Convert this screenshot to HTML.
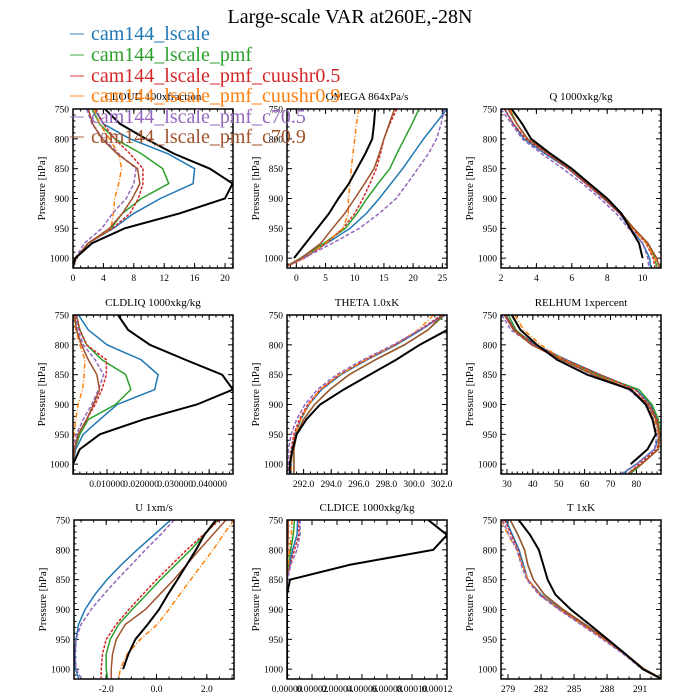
<!DOCTYPE html>
<html><head><meta charset="utf-8">
<style>
html,body{margin:0;padding:0;background:#fff;}
svg{display:block;font-family:"Liberation Serif",serif;}
</style></head>
<body>
<svg id="chart" width="700" height="700" viewBox="0 0 700 700">
<text x="350" y="23" text-anchor="middle" font-size="20">Large-scale VAR at260E,-28N</text>
<g id="panels"></g>
<g id="legend"></g>
</svg>
<script>
// pressure levels (hPa)
const levels = [750,775,800,825,850,875,900,925,950,975,1000,1015];
const seriesNames = ["cam144_lscale","cam144_lscale_pmf","cam144_lscale_pmf_cuushr0.5","cam144_lscale_pmf_cuushr0.9","cam144_lscale_pmf_c70.5","cam144_lscale_pmf_c70.9"];

// CLOUD
const cloudBlack = [4.2,6.2,9.6,13.3,18,21,20,14,6.8,2.5,0.3,0];
const cloudBlue = [2.8,4,7.5,12.5,16,15.8,11.5,8,5.3,2,0.4,0];
const cloudGreen = [2.5,3.5,5.5,9,11.8,12.6,9,6.5,5,2,0.4,0];
const cloudRed = [3,4,5.5,7.5,9.2,9.2,8.6,7.5,5.2,2,0.4,0];
const cloudOrange = [2.8,3.5,4.8,6,6.4,6,5.5,5.3,5,2,0.4,0];
const cloudPurple = [1.8,2.5,4,6,8.3,8,7,5.2,3.8,1.5,0.3,0];
const cloudBrown = [2,2.6,3.8,5.8,8.5,8.8,7.8,6.5,4.8,2,0.4,0];
// OMEGA
const omegaBlack = [13.5,13.3,13,11.8,10.4,9,7.2,5.6,3.6,1.6,-0.4];
const omegaBlue = [25.8,23.8,21.8,20,18.2,16.2,14.2,12,9.2,5.2,1.2,-1.9];
const omegaGreen = [21,19.8,18.5,17.2,16,14,12.1,10.4,8.4,4.7,0.7,-1.9];
const omegaRed = [17.2,16,15,14.4,13.7,12.6,11.4,10,8,5.1,1.4,-1.9];
const omegaOrange = [10.7,10.3,10,9.7,9.4,9.2,8.9,8.9,8,5,1.3,-1.9];
const omegaPurple = [25.3,24.8,24,22.6,20.8,19,17.1,14.2,10.8,6.2,1.2,-1.9];
const omegaBrown = [16.8,15.9,15,14.2,13.3,11.7,10,8.3,6.2,4.2,0.8,-1.9];
// Q
const qBlack = [2.6,3.2,3.7,4.8,6.0,7.0,8.0,8.8,9.3,9.8,10.0];
const qBlue = [2.2,2.7,3.3,4.5,5.8,6.8,7.8,8.7,9.3,10.0,10.4,10.45];
const qGreen = [2.5,2.9,3.5,4.7,5.9,6.9,7.9,8.8,9.5,10.3,10.7,10.8];
const qRed = [2.2,2.7,3.4,4.6,5.8,6.8,7.8,8.7,9.4,10.2,10.6,10.7];
const qOrange = [2.5,2.9,3.5,4.7,5.9,6.9,7.9,8.8,9.4,10.2,10.7,10.9];
const qPurple = [2.0,2.6,3.2,4.3,5.5,6.6,7.6,8.5,9.2,10.0,10.3,10.35];
const qBrown = [2.4,2.9,3.5,4.7,5.9,6.9,7.9,8.8,9.5,10.3,10.8,10.95];
// CLDLIQ
const liqBlack = [0.0132,0.0162,0.0226,0.033,0.0438,0.047,0.0364,0.0207,0.0079,0.002,0,0];
const liqBlue = [0.0016,0.0045,0.0100,0.0200,0.0250,0.0240,0.0130,0.0079,0.003,0.0008,0,0];
const liqGreen = [0.001,0.002,0.004,0.0085,0.0155,0.0170,0.0125,0.0045,0.002,0.0005,0,0];
const liqRed = [0.001,0.002,0.004,0.0098,0.0098,0.0085,0.0065,0.004,0.0015,0.0003,0,0];
const liqOrange = [0.0003,0.0008,0.002,0.0035,0.0033,0.0028,0.0015,0.0008,0.0003,0,0,0];
const liqPurple = [0.0008,0.0015,0.003,0.0065,0.009,0.0075,0.0055,0.003,0.001,0.0002,0,0];
const liqBrown = [0.0005,0.001,0.0025,0.0045,0.007,0.0078,0.006,0.004,0.0015,0.0005,0,0];
// THETA
const thBlack = [303.5,302.4,300.4,298.7,296.8,294.9,293.2,292.2,291.5,291.2,291.0,291.0];
const thBlue = [302.1,300.5,298.7,296.6,294.7,293.3,292.4,291.8,291.4,291.2,291.1,291.1];
const thGreen = [302.2,301,299.3,297.2,295.3,293.9,292.8,292,291.5,291.3,291.3,291.3];
const thRed = [302.0,300.4,298.6,296.5,294.6,293.2,292.3,291.7,291.3,291.1,291.0,291.0];
const thOrange = [301.4,300.3,298.6,296.5,294.6,293.2,292.4,291.8,291.4,291.2,291.1,291.1];
const thPurple = [302.3,300.4,298.5,296.3,294.4,293.0,292.1,291.5,291.1,290.9,290.9,290.9];
const thBrown = [302.1,301,299.3,297.2,295.3,293.9,292.8,292,291.5,291.3,291.3,291.3];
// RELHUM
const rhBlack = [31.9,35.2,41.6,49.4,61,77.8,83.6,86.2,87.5,84.3,77.8];
const rhBlue = [29.5,33,41,53,66,80,85.5,88,89,87,80,75];
const rhGreen = [30.5,33.5,40,52,65,81,86,88.5,89,88.5,82,78];
const rhRed = [29.5,33,40.5,52.5,66,79.5,85,88,89,88,81,77];
const rhOrange = [33,36.5,43,52,64,78,84,87,88.5,88.5,82,77];
const rhPurple = [28,31.5,40,51,63,77,84,86.5,88,87,80,74.5];
const rhBrown = [29,32.5,39.5,51,63.5,78,84.5,87.5,89,88.5,82,77];
// U
const uBlack = [2.36,1.9,1.57,1.2,0.83,0.45,0.1,-0.35,-0.84,-1.12,-1.33];
const uBlue = [0.56,-0.1,-0.77,-1.4,-1.97,-2.45,-2.84,-3.1,-3.2,-3.24,-3.22,-3.1];
const uGreen = [2.43,1.9,1.36,0.76,0.16,-0.4,-0.97,-1.5,-1.84,-2.0,-2.0,-1.95];
const uRed = [2.5,1.85,1.2,0.6,0.0,-0.55,-1.1,-1.6,-2.0,-2.15,-2.2,-2.2];
const uOrange = [3.08,2.65,2.25,1.8,1.36,0.92,0.49,0.03,-0.64,-1.17,-1.44,-1.5];
const uPurple = [0.7,0.15,-0.44,-1.0,-1.57,-2.1,-2.6,-3.0,-3.2,-3.24,-3.2,-3.0];
const uBrown = [2.76,2.23,1.7,1.2,0.69,0.12,-0.44,-1.24,-1.6,-1.75,-1.8,-1.8];
// CLDICE
const iceBlack = [0.000113,0.000128,0.000117,0.0000504,0.0000024,0,0,0,0,0,0,0];
const iceBlue = [0.0000085,0.000008,0.0000045,0.000002,0,0,0,0,0,0,0,0];
const iceGreen = [0.000006,0.000005,0.000003,0.000001,0,0,0,0,0,0,0,0];
const iceRed = [0.0000095,0.0000095,0.000006,0.0000025,0,0,0,0,0,0,0,0];
const iceOrange = [0.000004,0.0000035,0.000002,0.0000008,0,0,0,0,0,0,0,0];
const icePurple = [0.0000104,0.0000104,0.000008,0.000003,0.0000005,0,0,0,0,0,0,0];
const iceBrown = [0.000001,0.000001,0.0000005,0,0,0,0,0,0,0,0,0];
// T
const tBlack = [279.97,281.0,281.8,282.2,282.6,283.3,284.7,286.4,288.05,289.7,291.25,292.8];
const tBlue = [278.8,279.4,280.0,280.4,280.8,282.0,283.8,285.8,287.8,289.6,291.3,292.8];
const tGreen = [279.2,279.9,280.5,280.8,281.3,282.3,284.0,286.0,287.9,289.7,291.4,292.9];
const tRed = [278.7,279.3,279.9,280.3,280.8,281.9,283.7,285.8,287.8,289.6,291.3,292.8];
const tOrange = [278.4,279.0,279.8,280.3,280.8,281.9,283.7,285.7,287.7,289.6,291.3,292.9];
const tPurple = [278.5,279.1,279.8,280.2,280.7,281.8,283.6,285.6,287.6,289.5,291.2,292.8];
const tBrown = [279.2,279.9,280.5,280.8,281.3,282.3,284.0,286.0,287.9,289.7,291.4,292.9];

// tick labels
const cloudTicks = [0,4,8,12,16,20];
const omegaTicks = [0,5,10,15,20,25];
const qTicks = [2,4,6,8,10];
const liqTicks = [0.01,0.02,0.03,0.04];
const thTicks = [292,294,296,298,300,302];
const rhTicks = [30,40,50,60,70,80];
const uTicks = [-2,0,2];
const iceTicks = [0,0.00002,0.00004,0.00006,0.00008,0.0001,0.00012];
const tTicks = [279,282,285,288,291];
const pTicks = [750,800,850,900,950,1000];

const NS = "http://www.w3.org/2000/svg";
const colors = ["#1f77b4","#2ca02c","#d62728","#ff7f0e","#9467bd","#a0522d"];
const dashes = [null,null,"3,1.5","5,2,1,2","4,2",null];

const panels = [
 {name:"cloud",title:"CLOUD  100xfraction",x0:73,y0:109,xmin:0,xmax:21.05,ticks:cloudTicks,minor:1,fmt:v=>String(v),black:cloudBlack,s:[cloudBlue,cloudGreen,cloudRed,cloudOrange,cloudPurple,cloudBrown]},
 {name:"omega",title:"OMEGA  864xPa/s",x0:287,y0:109,xmin:-1.6,xmax:25.8,ticks:omegaTicks,minor:1,fmt:v=>String(v),black:omegaBlack,s:[omegaBlue,omegaGreen,omegaRed,omegaOrange,omegaPurple,omegaBrown]},
 {name:"q",title:"Q  1000xkg/kg",x0:501,y0:109,xmin:2,xmax:11.04,ticks:qTicks,minor:0.5,fmt:v=>String(v),black:qBlack,s:[qBlue,qGreen,qRed,qOrange,qPurple,qBrown]},
 {name:"cldliq",title:"CLDLIQ  1000xkg/kg",x0:73,y0:315,xmin:0,xmax:0.047,ticks:liqTicks,minor:0.002,fmt:v=>v.toFixed(6),black:liqBlack,s:[liqBlue,liqGreen,liqRed,liqOrange,liqPurple,liqBrown]},
 {name:"theta",title:"THETA  1.0xK",x0:287,y0:315,xmin:290.8,xmax:302.38,ticks:thTicks,minor:0.5,fmt:v=>v.toFixed(1),black:thBlack,s:[thBlue,thGreen,thRed,thOrange,thPurple,thBrown]},
 {name:"relhum",title:"RELHUM  1xpercent",x0:501,y0:315,xmin:27.7,xmax:89.5,ticks:rhTicks,minor:2,fmt:v=>String(v),black:rhBlack,s:[rhBlue,rhGreen,rhRed,rhOrange,rhPurple,rhBrown]},
 {name:"u",title:"U  1xm/s",x0:74,y0:520,xmin:-3.28,xmax:3.08,ticks:uTicks,minor:0.5,fmt:v=>v.toFixed(1),black:uBlack,s:[uBlue,uGreen,uRed,uOrange,uPurple,uBrown]},
 {name:"cldice",title:"CLDICE  1000xkg/kg",x0:287,y0:520,xmin:0,xmax:0.000128,ticks:iceTicks,minor:0.00001,fmt:v=>v.toFixed(5),black:iceBlack,s:[iceBlue,iceGreen,iceRed,iceOrange,icePurple,iceBrown]},
 {name:"t",title:"T  1xK",x0:501,y0:520,xmin:278.36,xmax:292.9,ticks:tTicks,minor:1,fmt:v=>String(v),black:tBlack,s:[tBlue,tGreen,tRed,tOrange,tPurple,tBrown]}
];
const W=160,H=159,PMIN=750,PMAX=1016.5;

function mk(tag,attrs,parent){const e=document.createElementNS(NS,tag);for(const k in attrs)e.setAttribute(k,attrs[k]);parent.appendChild(e);return e;}

const root=document.getElementById("panels");
panels.forEach((p,pi)=>{
  const g=mk("g",{},root);
  
  
  const xs=v=>p.x0+(v-p.xmin)/(p.xmax-p.xmin)*W;
  const ys=v=>p.y0+(v-PMIN)/(PMAX-PMIN)*H;
  const cid="clip"+pi;
  const cp=mk("clipPath",{id:cid},g);mk("rect",{x:p.x0,y:p.y0,width:W,height:H},cp);
  // title
  const t=mk("text",{x:p.x0+W/2,y:p.y0-9,"text-anchor":"middle","font-size":"11"},g);
  t.textContent=p.title;
  
  
  // y label
  const yl=mk("text",{transform:`translate(${p.x0-28},${p.y0+H/2}) rotate(-90)`,"text-anchor":"middle","font-size":"11"},g);
  yl.textContent="Pressure [hPa]";
  
  
  // ticks
  const tg=mk("g",{stroke:"#000","stroke-width":"1"},g);
  
  
  for(let pv=PMIN;pv<=PMAX;pv+=10){
    const y=ys(pv),L=(pv%50===0)?5:2.5;
    mk("line",{x1:p.x0,x2:p.x0+L,y1:y,y2:y},tg);
    mk("line",{x1:p.x0+W,x2:p.x0+W-L,y1:y,y2:y},tg);
  }
  pTicks.forEach(pv=>{
    const tx=mk("text",{x:p.x0-4,y:ys(pv)+3.5,"text-anchor":"end","font-size":"9.5"},g);
    tx.textContent=String(pv);
    
    
  });
  const n0=Math.ceil(p.xmin/p.minor-1e-6),n1=Math.floor(p.xmax/p.minor+1e-6);
  for(let n=n0;n<=n1;n++){
    const x=xs(n*p.minor);
    mk("line",{x1:x,x2:x,y1:p.y0+H,y2:p.y0+H-2.5},tg);
    mk("line",{x1:x,x2:x,y1:p.y0,y2:p.y0+2.5},tg);
  }
  p.ticks.forEach(v=>{
    const x=xs(v);
    mk("line",{x1:x,x2:x,y1:p.y0+H,y2:p.y0+H-5},tg);
    mk("line",{x1:x,x2:x,y1:p.y0,y2:p.y0+5},tg);
    const tx=mk("text",{x:x,y:p.y0+H+13,"text-anchor":"middle","font-size":"9.5"},g);
    tx.textContent=p.fmt(v);
    
    
  });
  // series
  const sg=mk("g",{"clip-path":`url(#${cid})`,fill:"none"},g);
  p.s.forEach((arr,si)=>{
    const d=arr.map((v,i)=>(i?"L":"M")+xs(v).toFixed(2)+","+ys(levels[i]).toFixed(2)).join("");
    const path=mk("path",{d:d,stroke:colors[si],"stroke-width":"1.5"},sg);
    if(dashes[si])path.setAttribute("stroke-dasharray",dashes[si]);
    
    
  });
  const bd=p.black.map((v,i)=>(i?"L":"M")+xs(v).toFixed(2)+","+ys(levels[i]).toFixed(2)).join("");
  const bp=mk("path",{d:bd,stroke:"#000","stroke-width":"2"},sg);
  
  
  const fr=mk("rect",{x:p.x0,y:p.y0,width:W,height:H,fill:"none",stroke:"#000","stroke-width":"1.5"},g);
  
  
});

const lg=document.getElementById("legend");


const legY=[40,61,82,102,123,143];
seriesNames.forEach((nm,i)=>{
  const e=mk("g",{},lg);
  
  
  mk("line",{x1:70,x2:84,y1:legY[i]-6,y2:legY[i]-6,stroke:colors[i],"stroke-width":"1.5","stroke-opacity":"0.6"},e);
  const tx=mk("text",{x:91,y:legY[i],fill:colors[i],"font-size":"20"},e);
  tx.textContent=nm;
});
</script>
</body></html>
